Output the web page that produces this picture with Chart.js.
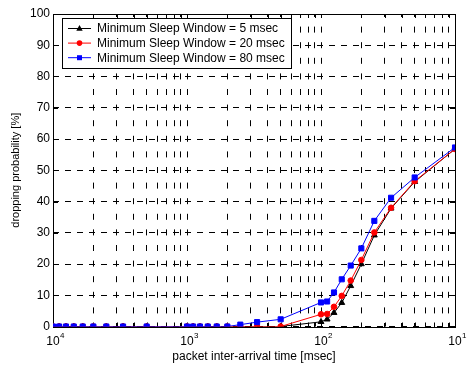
<!DOCTYPE html>
<html>
<head>
<meta charset="utf-8">
<script src="https://cdn.jsdelivr.net/npm/chart.js@4.4.0/dist/chart.umd.min.js"></script>
<style>
  html, body { margin: 0; padding: 0; background: #fff; }
  canvas { display: block; }
</style>
</head>
<body>
<canvas id="chart" width="470" height="372"></canvas>
<script>
// packet inter-arrival times [msec]
const interArrival = [
  1/10000, 1/9000, 1/8000, 1/7000, 1/6000, 1/5000, 1/4000, 1/3000, 1/2000,
  1/1000, 1/900, 1/800, 1/700, 1/600, 1/500, 1/400, 1/300, 1/200,
  1/100, 1/90, 1/80, 1/70, 1/60, 1/50, 1/40, 1/30, 1/20,
  1/10
];

// dropping probability [%] per minimum sleep window
const sleep5 = [
  0, 0, 0, 0, 0, 0, 0, 0, 0,
  0, 0, 0, 0, 0, 0, 0, 0, 0,
  1.5, 2.3, 4.4, 7.6, 13.0, 20.0, 29.2, 37.8, 46.3,
  56.8
];
const sleep20 = [
  0, 0, 0, 0, 0, 0, 0, 0, 0,
  0, 0, 0, 0, 0, 0, 0, 0, 0,
  3.9, 4.0, 6.3, 9.8, 14.7, 21.3, 30.1, 38.0, 46.5,
  56.8
];
const sleep80 = [
  0, 0, 0, 0, 0, 0, 0, 0, 0,
  0, 0, 0, 0, 0, 0, 0.6, 1.4, 2.3,
  7.7, 8.0, 10.9, 15.1, 19.5, 25.0, 33.8, 41.2, 47.7,
  57.3
];

const seriesLabels = [
  'Minimum Sleep Window = 5 msec',
  'Minimum Sleep Window = 20 msec',
  'Minimum Sleep Window = 80 msec'
];

const decades = [1e-4, 1e-3, 1e-2, 1e-1];
const decadeExponents = ['4', '3', '2', '1'];
const probTicks = [0, 10, 20, 30, 40, 50, 60, 70, 80, 90, 100];

const FONT = "'Liberation Sans', Arial, Helvetica, sans-serif";

function toPoints(ys) {
  return interArrival.map((x, i) => ({ x: x, y: ys[i] }));
}

function drawMarker(ctx, style, x, y, color) {
  ctx.fillStyle = color;
  ctx.beginPath();
  if (style === 'triangle') {
    ctx.moveTo(x, y - 3.5);
    ctx.lineTo(x + 3.2, y + 2.2);
    ctx.lineTo(x - 3.2, y + 2.2);
    ctx.closePath();
  } else if (style === 'circle') {
    ctx.arc(x, y, 2.8, 0, Math.PI * 2);
  } else {
    ctx.rect(x - 2.5, y - 2.5, 5, 5);
  }
  ctx.fill();
}

// box round the plot, with inward tick marks on all four sides
const frameTicks = {
  id: 'frameTicks',
  beforeDatasetsDraw(chart) {
    const { ctx, chartArea: a, scales } = chart;
    ctx.save();
    ctx.strokeStyle = '#000';
    ctx.lineWidth = 1;
    ctx.beginPath();
    scales.x.ticks.forEach(t => {
      const px = Math.round(scales.x.getPixelForValue(t.value)) + 0.5;
      ctx.moveTo(px, a.bottom); ctx.lineTo(px, a.bottom - 4);
      ctx.moveTo(px, a.top); ctx.lineTo(px, a.top + 4);
    });
    scales.y.ticks.forEach(t => {
      const py = Math.round(scales.y.getPixelForValue(t.value)) + 0.5;
      ctx.moveTo(a.left, py); ctx.lineTo(a.left + 5, py);
      ctx.moveTo(a.right, py); ctx.lineTo(a.right - 5, py);
    });
    ctx.stroke();
    ctx.strokeRect(Math.round(a.left) + 0.5, Math.round(a.top) + 0.5,
      Math.round(a.right - a.left), Math.round(a.bottom - a.top));
    ctx.restore();
  },
  afterDraw(chart) {
    const { ctx, scales } = chart;
    // exponents next to the "10" labels
    ctx.save();
    ctx.fillStyle = '#000';
    ctx.font = '8px ' + FONT;
    ctx.textAlign = 'left';
    ctx.textBaseline = 'middle';
    decades.forEach((d, i) => {
      const px = scales.x.getPixelForValue(d);
      ctx.fillText(decadeExponents[i], px + 7, 335.5);
    });

    // legend box
    const lx = 62, ly = 18, lw = 229, lh = 50;
    ctx.fillStyle = '#fff';
    ctx.fillRect(lx, ly, lw, lh);
    ctx.strokeStyle = '#000';
    ctx.lineWidth = 1;
    ctx.strokeRect(lx + 0.5, ly + 0.5, lw, lh);
    ctx.font = '12px ' + FONT;
    chart.data.datasets.forEach((ds, i) => {
      const y = 28.5 + i * 14.6;
      ctx.strokeStyle = ds.borderColor;
      ctx.beginPath();
      ctx.moveTo(68, y);
      ctx.lineTo(91, y);
      ctx.stroke();
      drawMarker(ctx, ds.pointStyle, 79.5, y, ds.borderColor);
      ctx.fillStyle = '#000';
      ctx.fillText(seriesLabels[i], 97, y + 0.5);
    });
    ctx.restore();
  }
};

new Chart(document.getElementById('chart'), {
  type: 'line',
  data: {
    datasets: [
      {
        label: seriesLabels[0], data: toPoints(sleep5), order: 3,
        borderColor: '#000000', backgroundColor: '#000000',
        pointStyle: 'triangle', pointRadius: 3.4, borderWidth: 1
      },
      {
        label: seriesLabels[1], data: toPoints(sleep20), order: 2,
        borderColor: '#ff0000', backgroundColor: '#ff0000',
        pointStyle: 'circle', pointRadius: 2.8, borderWidth: 1
      },
      {
        label: seriesLabels[2], data: toPoints(sleep80), order: 1,
        borderColor: '#0000ff', backgroundColor: '#0000ff',
        pointStyle: 'rect', pointRadius: 3.6, borderWidth: 1
      }
    ]
  },
  options: {
    responsive: false,
    animation: false,
    devicePixelRatio: 1,
    layout: { padding: { left: 0, right: 15, top: 14, bottom: 0 } },
    elements: {
      line: { tension: 0 },
      point: { pointBorderWidth: 1, hoverRadius: 3 }
    },
    plugins: {
      legend: { display: false },
      tooltip: { enabled: false }
    },
    scales: {
      x: {
        type: 'logarithmic',
        min: decades[0],
        max: decades[decades.length - 1],
        afterBuildTicks(scale) {
          const ticks = [];
          decades.forEach((d, i) => {
            if (i === decades.length - 1) { ticks.push({ value: d }); return; }
            for (let m = 1; m <= 9; m++) ticks.push({ value: m * d });
          });
          scale.ticks = ticks;
        },
        afterFit(scale) { scale.height = 45.5; },
        ticks: {
          autoSkip: false,
          maxRotation: 0,
          padding: 8,
          color: '#000',
          font: { family: FONT, size: 12 },
          callback(value) {
            const e = Math.log10(value);
            return Math.abs(e - Math.round(e)) < 1e-9 ? '10' : '';
          }
        },
        grid: { color: '#000', lineWidth: 1, drawTicks: false },
        border: { display: false, dash: [6, 9.6], dashOffset: 3 },
        title: {
          display: true,
          text: 'packet inter-arrival time [msec]',
          color: '#000',
          font: { family: FONT, size: 12 },
          padding: { top: 0, bottom: 8 }
        }
      },
      y: {
        min: 0,
        max: 100,
        afterBuildTicks(scale) {
          scale.ticks = probTicks.map(v => ({ value: v }));
        },
        afterFit(scale) { scale.width = 53; },
        ticks: {
          padding: 3,
          color: '#000',
          font: { family: FONT, size: 12 }
        },
        grid: { color: '#000', lineWidth: 1, drawTicks: false },
        border: { display: false, dash: [6, 6], dashOffset: 0 },
        title: {
          display: true,
          text: 'dropping probability [%]',
          color: '#000',
          font: { family: FONT, size: 11 },
          padding: { top: 9.5, bottom: 0 }
        }
      }
    }
  },
  plugins: [frameTicks]
});
</script>
</body>
</html>
